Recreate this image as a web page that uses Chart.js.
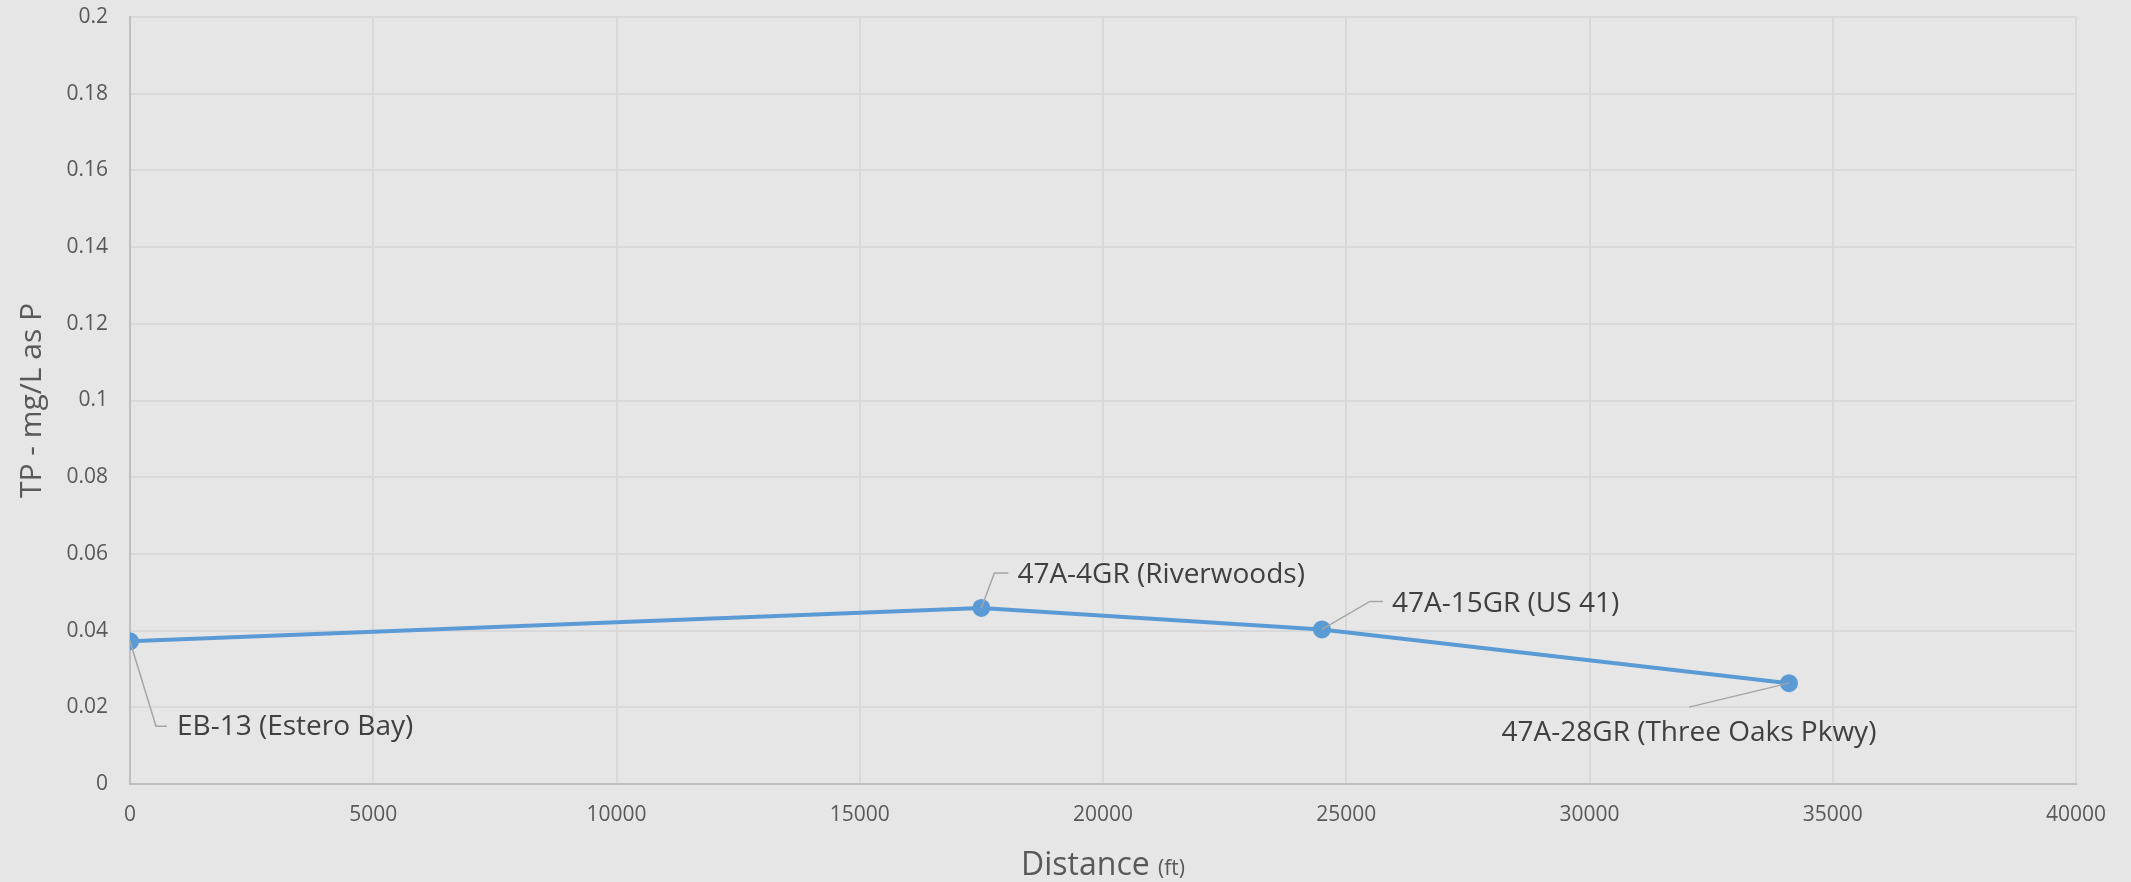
<!DOCTYPE html>
<html>
<head>
<meta charset="utf-8">
<script src="https://cdn.jsdelivr.net/npm/chart.js@4"></script>
<style>
    html, body { margin: 0; padding: 0; background: #e7e6e6; }
    #wrap { width: 2131px; height: 882px; }
</style>
</head>
<body>
<div id="wrap"><canvas id="chart"></canvas></div>
<script>
// Sample stations along the creek
const stations = ['EB-13 (Estero Bay)', '47A-4GR (Riverwoods)', '47A-15GR (US 41)', '47A-28GR (Three Oaks Pkwy)'];
const distances = [0, 17500, 24500, 34100];
const tpValues = [0.0372, 0.0459, 0.0403, 0.0263];

const xTicks = [0, 5000, 10000, 15000, 20000, 25000, 30000, 35000, 40000];
const yTicks = [0, 0.02, 0.04, 0.06, 0.08, 0.1, 0.12, 0.14, 0.16, 0.18, 0.2];

// where each callout sits relative to its point: elbow, end of leader, text anchor
const callouts = [
    { elbow: [26, 85], end: [37, 85], text: [47, 86], align: 'left' },
    { elbow: [13, -35], end: [27, -35], text: [36, -33], align: 'left' },
    { elbow: [48, -28], end: [61, -28], text: [70, -25], align: 'left' },
    { elbow: [-100, 24], end: [-100, 24], text: [-100, 50], align: 'center' }
];

const textColor = '#595959';
const fontFamily = '"Open Sans", sans-serif';

const calloutPlugin = {
    id: 'callouts',
    afterDatasetsDraw(chart) {
        const ctx = chart.ctx;
        const points = chart.getDatasetMeta(0).data;
        ctx.save();
        points.forEach(function (pt, i) {
            const c = callouts[i];
            ctx.strokeStyle = '#a6a6a6';
            ctx.lineWidth = 1.5;
            ctx.beginPath();
            ctx.moveTo(pt.x, pt.y);
            ctx.lineTo(pt.x + c.elbow[0], pt.y + c.elbow[1]);
            ctx.lineTo(pt.x + c.end[0], pt.y + c.end[1]);
            ctx.stroke();
            ctx.fillStyle = '#404040';
            ctx.font = '28px ' + fontFamily;
            ctx.textAlign = c.align;
            ctx.textBaseline = 'middle';
            ctx.fillText(stations[i], pt.x + c.text[0], pt.y + c.text[1]);
        });
        ctx.restore();
    },
    afterDraw(chart) {
        // x axis title with the smaller unit
        const ctx = chart.ctx;
        const area = chart.chartArea;
        const mid = (area.left + area.right) / 2;
        ctx.save();
        ctx.fillStyle = textColor;
        ctx.textBaseline = 'alphabetic';
        ctx.font = '32px ' + fontFamily;
        const w1 = ctx.measureText('Distance ').width;
        ctx.font = '21px ' + fontFamily;
        const w2 = ctx.measureText('(ft)').width;
        const left = mid - (w1 + w2) / 2;
        ctx.textAlign = 'left';
        ctx.font = '32px ' + fontFamily;
        ctx.fillText('Distance', left, 875);
        ctx.font = '21px ' + fontFamily;
        ctx.fillText('(ft)', left + w1, 875);
        ctx.restore();
    }
};

const ctx = document.getElementById('chart').getContext('2d');
new Chart(ctx, {
    type: 'line',
    data: {
        datasets: [{
            data: distances.map(function (d, i) { return { x: d, y: tpValues[i] }; }),
            borderColor: '#5b9bd5',
            backgroundColor: '#5b9bd5',
            borderWidth: 4,
            pointRadius: 7,
            pointHoverRadius: 7,
            tension: 0
        }]
    },
    options: {
        responsive: true,
        maintainAspectRatio: false,
        animation: false,
        devicePixelRatio: 1,
        layout: { padding: { top: 17, right: 55, left: 0, bottom: 0 } },
        plugins: {
            legend: { display: false },
            tooltip: { enabled: false }
        },
        scales: {
            x: {
                type: 'linear',
                min: 0,
                max: 40000,
                afterBuildTicks: function (scale) {
                    scale.ticks = xTicks.map(function (v) { return { value: v }; });
                },
                afterFit: function (scale) { scale.height = 98; },
                grid: { color: '#d9d9d9', lineWidth: 2, drawTicks: false },
                border: { color: '#bfbfbf', width: 2 },
                ticks: {
                    color: textColor,
                    font: { size: 21, family: fontFamily },
                    padding: 18,
                    maxRotation: 0,
                    callback: function (v) { return String(v); }
                }
            },
            y: {
                min: 0,
                max: 0.2,
                afterBuildTicks: function (scale) {
                    scale.ticks = yTicks.map(function (v) { return { value: v }; });
                },
                afterFit: function (scale) {
                    scale.width = 130;
                    scale.paddingTop = 0;
                    scale.paddingBottom = 0;
                },
                grid: { color: '#d9d9d9', lineWidth: 2, drawTicks: false },
                border: { color: '#bfbfbf', width: 2 },
                ticks: {
                    color: textColor,
                    font: { size: 21, family: fontFamily },
                    padding: 22,
                    callback: function (v) { return String(+v.toFixed(2)); }
                },
                title: {
                    display: true,
                    text: 'TP - mg/L as P',
                    color: textColor,
                    font: { size: 30, family: fontFamily },
                    padding: { top: 14, bottom: 0 }
                }
            }
        }
    },
    plugins: [calloutPlugin]
});
</script>
</body>
</html>
